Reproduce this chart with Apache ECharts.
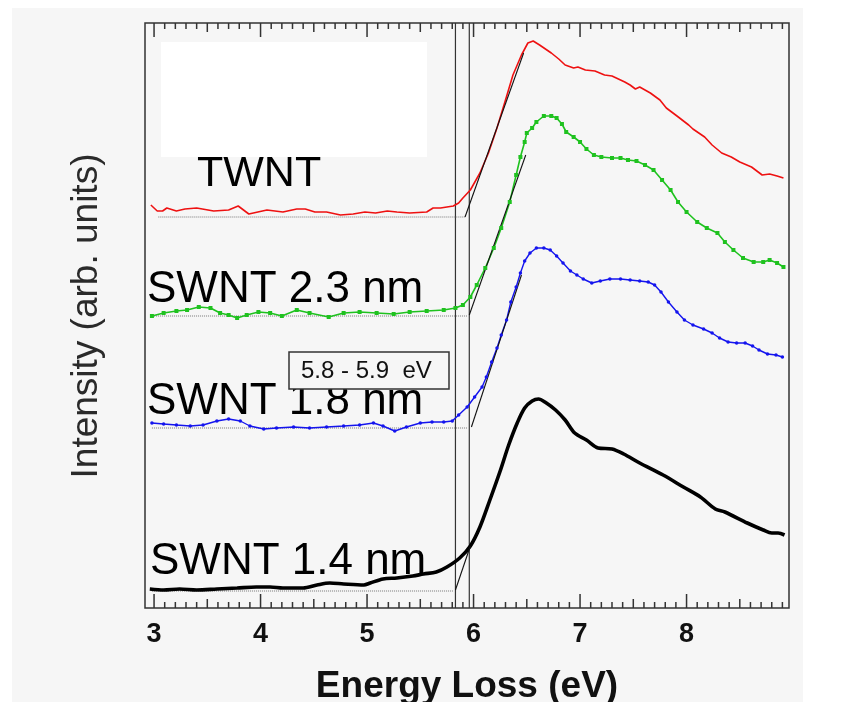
<!DOCTYPE html>
<html>
<head>
<meta charset="utf-8">
<script src="https://cdn.jsdelivr.net/npm/echarts@6/dist/echarts.min.js"></script>
<style>
html,body{margin:0;padding:0;background:#ffffff;}
#chart{width:843px;height:702px;}
</style>
</head>
<body>
<div id="chart"></div>
<script>
// ---- data (x: energy loss in eV, y: intensity, arb. units, offset per curve) ----
var xTickLabels = [3, 4, 5, 6, 7, 8];

var twnt = [
  [2.97,403],[3.03,397],[3.08,397],[3.12,400],[3.21,397],[3.29,399],[3.40,400],[3.56,397],
  [3.70,398],[3.79,402],[3.89,394],[4.06,398],[4.21,396],[4.34,399],[4.42,399],[4.51,396],
  [4.62,396],[4.75,393],[4.87,394],[4.98,396],[5.08,395],[5.19,397],[5.28,396],[5.40,395],
  [5.56,396],[5.62,400],[5.69,400],[5.81,402],[5.86,405],[5.90,410],[5.97,418],[6.06,435],
  [6.14,455],[6.22,480],[6.30,508],[6.37,533],[6.45,553],[6.51,565],[6.56,567],[6.62,563],
  [6.73,555],[6.80,549],[6.86,543],[6.94,540],[6.98,541],[7.05,538],[7.14,537],[7.23,533],
  [7.30,532],[7.42,526],[7.47,523],[7.52,519],[7.56,521],[7.66,515],[7.75,508],[7.81,500],
  [7.91,492],[8.02,483],[8.06,479],[8.17,471],[8.24,463],[8.33,455],[8.42,451],[8.50,446],
  [8.61,441],[8.71,433],[8.78,434],[8.85,432],[8.91,430]
];

var swnt23 = [
  [2.98,292],[3.09,295],[3.21,297],[3.31,298],[3.42,301],[3.53,300],[3.62,295],[3.70,293],
  [3.78,290],[3.87,293],[3.98,296],[4.09,295],[4.20,292],[4.34,298],[4.46,295],[4.64,291],
  [4.78,295],[4.93,296],[5.09,295],[5.25,294],[5.40,296],[5.56,297],[5.72,298],[5.83,300],
  [5.90,303],[5.97,311],[6.03,323],[6.11,340],[6.19,360],[6.26,380],[6.34,406],[6.40,433],
  [6.44,451],[6.48,466],[6.50,475],[6.55,480],[6.59,486],[6.66,492],[6.73,492],[6.78,490],
  [6.83,484],[6.87,476],[6.94,471],[7.00,466],[7.06,459],[7.13,453],[7.20,451],[7.30,450],
  [7.38,450],[7.45,448],[7.53,447],[7.61,443],[7.69,438],[7.77,428],[7.85,418],[7.92,406],
  [8.00,396],[8.10,386],[8.19,380],[8.29,375],[8.36,366],[8.44,358],[8.53,350],[8.63,346],
  [8.72,346],[8.78,348],[8.85,345],[8.91,341]
];

var swnt18 = [
  [2.98,185],[3.09,184],[3.21,183],[3.34,182],[3.46,183],[3.59,187],[3.70,189],[3.81,187],
  [3.90,182],[4.03,179],[4.15,180],[4.31,181],[4.46,180],[4.62,181],[4.78,182],[4.93,183],
  [5.06,185],[5.15,182],[5.26,177],[5.37,181],[5.50,185],[5.61,186],[5.72,186],[5.80,187],
  [5.86,193],[5.94,201],[6.01,211],[6.08,221],[6.12,231],[6.17,246],[6.22,260],[6.26,273],
  [6.31,288],[6.35,306],[6.40,321],[6.44,335],[6.48,347],[6.53,355],[6.59,360],[6.66,360],
  [6.72,358],[6.78,352],[6.84,345],[6.91,337],[6.97,333],[7.03,329],[7.11,325],[7.19,327],
  [7.28,329],[7.38,329],[7.47,328],[7.56,327],[7.64,326],[7.70,323],[7.76,316],[7.83,306],
  [7.91,296],[7.98,288],[8.06,283],[8.16,279],[8.24,275],[8.31,270],[8.39,266],[8.47,265],
  [8.55,265],[8.62,262],[8.68,258],[8.76,254],[8.84,253],[8.90,251]
];

var swnt14 = [
  [2.96,19],[3.09,18],[3.24,19],[3.40,18],[3.59,19],[3.78,20],[3.96,21],[4.09,21],
  [4.21,20],[4.40,20],[4.53,23],[4.65,25],[4.78,24],[4.97,23],[5.03,25],[5.15,29],
  [5.28,30],[5.43,32],[5.53,34],[5.65,36],[5.75,41],[5.87,50],[5.97,62],[6.06,81],
  [6.15,107],[6.25,137],[6.33,163],[6.41,185],[6.48,200],[6.55,207],[6.61,209],[6.67,206],
  [6.77,198],[6.86,188],[6.95,175],[7.06,168],[7.17,160],[7.30,159],[7.41,154],[7.56,145],
  [7.78,133],[7.97,121],[8.13,111],[8.27,99],[8.36,96],[8.57,85],[8.72,78],[8.80,75],
  [8.86,75],[8.92,73]
];

// dotted pre-edge baselines
var baseTwnt = [[3.04,391],[5.92,391]];
var base23   = [[2.98,292],[5.94,292]];
var base18   = [[2.98,180],[5.94,180]];
var base14   = [[2.98,17],[5.81,17]];

// linear onset extrapolations
var fitTwnt = [[5.92,391],[6.47,555]];
var fit23   = [[5.96,293],[6.49,453]];
var fit18   = [[5.98,181],[6.45,333]];
var fit14   = [[5.83,18],[5.97,62]];

// onset range markers
var onsetLo = [[5.83,0],[5.83,585]];
var onsetHi = [[5.96,0],[5.96,585]];

var curveLabels = ['TWNT', 'SWNT 2.3 nm', 'SWNT 1.8 nm', 'SWNT 1.4 nm'];
var onsetText = '5.8 - 5.9  eV';

// ---- chart ----
var X_MIN = 2.915, X_MAX = 8.962, Y_MIN = 0, Y_MAX = 585;   // 1 y unit = 1 px in this grid

function lineSeries(data, color, width, extra) {
  var s = { type: 'line', data: data, xAxisIndex: 0, yAxisIndex: 0, showSymbol: false,
            symbol: 'none', silent: true, animation: false,
            lineStyle: { color: color, width: width }, itemStyle: { color: color } };
  for (var k in extra) s[k] = extra[k];
  return s;
}

// ruler-style inside ticks (0.1 eV minor, 0.5 eV medium, 1 eV major), each a tiny 2-point line
var tickSeries = [];
for (var ti = 30; ti <= 89; ti++) {
  var tv = ti / 10;
  var tl = (ti % 10 === 0) ? 14 : (ti % 5 === 0 ? 9 : 6);
  tickSeries.push(lineSeries([[tv, Y_MIN], [tv, Y_MIN + tl]], '#333', 1.5, { z: 8 }));
  tickSeries.push(lineSeries([[tv, Y_MAX], [tv, Y_MAX - tl]], '#333', 1.5, { z: 8 }));
}

var bg = '#f6f6f6';
var font = 'Liberation Sans, Arial, sans-serif';
var chart = echarts.init(document.getElementById('chart'), null, { renderer: 'canvas' });
chart.setOption({
  backgroundColor: '#ffffff',
  animation: false,
  grid: { left: 145, right: 54, top: 23, bottom: 94, show: true, backgroundColor: bg,
          borderColor: '#333', borderWidth: 1.5, containLabel: false, outerBoundsMode: 'none' },
  xAxis: {
    type: 'value', min: X_MIN, max: X_MAX,
    axisLine: { show: false, onZero: false },
    splitLine: { show: false },
    axisTick: { show: false },
    axisLabel: { show: true, customValues: xTickLabels, margin: 13,
                 fontFamily: font, fontWeight: 'bold', fontSize: 27, color: '#111' },
    name: 'Energy Loss (eV)', nameLocation: 'middle', nameGap: 60,
    nameTextStyle: { fontFamily: font, fontWeight: 'bold', fontSize: 37, color: '#111' }
  },
  yAxis: { type: 'value', min: Y_MIN, max: Y_MAX, show: true,
           axisLine: { show: false }, axisTick: { show: false }, axisLabel: { show: false },
           splitLine: { show: false } },
  graphic: [
    { type: 'rect', z: -10, shape: { x: 12, y: 8, width: 791, height: 694 }, style: { fill: bg } },
    { type: 'rect', z: 100, shape: { x: 161, y: 42, width: 266, height: 115 }, style: { fill: '#ffffff' } },
    { type: 'text', z: 100, x: 87, y: 316, rotation: Math.PI / 2,
      style: { text: 'Intensity (arb. units)', fontFamily: font,
               fontSize: 37, fill: '#2a2a2a', align: 'center', verticalAlign: 'middle' } },
    { type: 'text', z: 100, x: 197, y: 174,
      style: { text: curveLabels[0], fontFamily: font, fontSize: 43,
               fill: '#000', align: 'left', verticalAlign: 'middle' } },
    { type: 'text', z: 100, x: 147, y: 290,
      style: { text: curveLabels[1], fontFamily: font, fontSize: 44,
               fill: '#000', align: 'left', verticalAlign: 'middle' } },
    { type: 'text', z: 100, x: 147, y: 402,
      style: { text: curveLabels[2], fontFamily: font, fontSize: 44,
               fill: '#000', align: 'left', verticalAlign: 'middle' } },
    { type: 'text', z: 100, x: 150, y: 562,
      style: { text: curveLabels[3], fontFamily: font, fontSize: 44,
               fill: '#000', align: 'left', verticalAlign: 'middle' } },
    { type: 'rect', z: 100, shape: { x: 289, y: 352, width: 160, height: 37 },
      style: { fill: bg, stroke: '#333', lineWidth: 1.5 } },
    { type: 'text', z: 101, x: 301, y: 371,
      style: { text: onsetText, fontFamily: font, fontSize: 24,
               fill: '#111', align: 'left', verticalAlign: 'middle' } }
  ],
  series: [
    lineSeries(onsetLo, '#333', 1.2, {}),
    lineSeries(onsetHi, '#333', 1.2, {}),
    lineSeries(baseTwnt, '#777', 1, { lineStyle: { color: '#777', width: 1, type: [1, 1] } }),
    lineSeries(base23, '#777', 1, { lineStyle: { color: '#777', width: 1, type: [1, 1] } }),
    lineSeries(base18, '#777', 1, { lineStyle: { color: '#777', width: 1, type: [1, 1] } }),
    lineSeries(base14, '#777', 1, { lineStyle: { color: '#777', width: 1, type: [1, 1] } }),
    lineSeries(twnt, '#ee1111', 1.6, {}),
    lineSeries(swnt23, '#1fc21f', 1.6, { showSymbol: true, symbol: 'rect', symbolSize: 4 }),
    lineSeries(swnt18, '#1414ee', 1.4, { showSymbol: true, symbol: 'circle', symbolSize: 3.5 }),
    lineSeries(swnt14, '#000000', 3.6, { smooth: 0.3 }),
    lineSeries(fitTwnt, '#111', 1.1, {}),
    lineSeries(fit23, '#111', 1.1, {}),
    lineSeries(fit18, '#111', 1.1, {}),
    lineSeries(fit14, '#111', 1.1, {})
  ].concat(tickSeries)
});
</script>
</body>
</html>
